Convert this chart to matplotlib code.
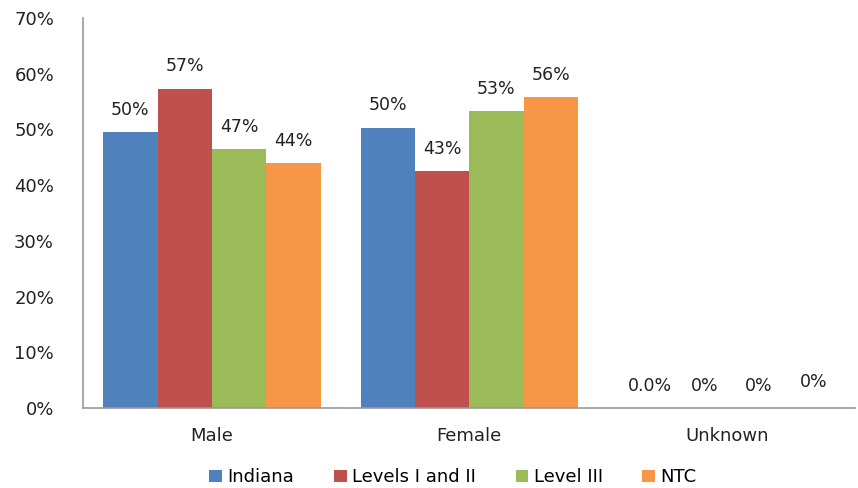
import numpy as np
from matplotlib import pyplot as plt

categories = ['Male', 'Female', 'Unknown']
series = ['Indiana', 'Levels I and II', 'Level III', 'NTC']
indiana = [0.495, 0.503, 0.0]
levels_1_2 = [0.573, 0.425, 0.0]
level_3 = [0.465, 0.533, 0.0]
ntc = [0.440, 0.558, 0.0]
labels = [['50%', '50%', '0.0%'],
          ['57%', '43%', '0%'],
          ['47%', '53%', '0%'],
          ['44%', '56%', '0%']]
colors = ['#4F81BD', '#C0504D', '#9BBB59', '#F79646']

fig = plt.figure(figsize=(8.58, 4.88), dpi=100)
ax = fig.add_axes([0.097, 0.164, 0.9, 0.799])

x = np.arange(len(categories))
w = 0.211
for i, (vals, name) in enumerate(zip([indiana, levels_1_2, level_3, ntc], series)):
    pos = x + (i - 1.5) * w
    ax.bar(pos, vals, w, color=colors[i], label=name)
    for j, (p, v) in enumerate(zip(pos, vals)):
        dy = 0.031 if j == 2 and i == 3 else 0.024
        ax.text(p + (0.02 if j == 2 else 0), v + dy, labels[i][j], ha='center', va='bottom',
                fontsize=12.5, color='#222222')

ax.set_ylim(0, 0.7)
ax.set_xlim(-0.5, 2.5)
ax.set_yticks(np.arange(0, 0.71, 0.1))
ax.set_yticklabels(['{:.0f}%'.format(t * 100) for t in np.arange(0, 0.71, 0.1)])
ax.set_xticks(x)
ax.set_xticklabels(categories)
ax.tick_params(axis='both', length=0, labelsize=13, colors='#222222')
ax.tick_params(axis='y', pad=21)
ax.tick_params(axis='x', pad=14)
for s in ['top', 'right']:
    ax.spines[s].set_visible(False)
for s in ['left', 'bottom']:
    ax.spines[s].set_color('#999999')
    ax.spines[s].set_linewidth(1.2)

fig.legend(loc='center', bbox_to_anchor=(0.528, 0.022), ncol=4, frameon=False,
           fontsize=13, handlelength=0.7, handleheight=0.7, handletextpad=0.3,
           columnspacing=2.2)

plt.savefig('out.png')
